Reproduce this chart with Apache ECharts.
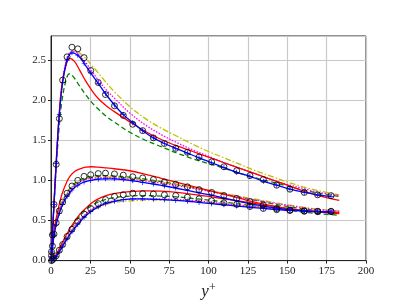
<!DOCTYPE html>
<html><head><meta charset="utf-8">
<script src="https://cdn.jsdelivr.net/npm/echarts@6/dist/echarts.min.js"></script>
<style>html,body{margin:0;padding:0;background:#fff}#c{width:407px;height:305px}</style>
</head><body><div id="c"></div>
<script>
// y+ positions of the DNS reference points (also used by the blue model)
var yPlusDNS = [0.3,0.9,1.9,3.3,5.3,7.4,10.2,13.3,17,21,25.2,30,34.6,40.3,45.9,51.9,58.2,65,72,79.2,86.6,94,102,109.8,117.9,126.3,134.8,143.3,151.7,160.8,169.3,177.8];
var dnsU = [0.11,0.32,0.70,1.20,1.77,2.25,2.54,2.66,2.64,2.53,2.37,2.22,2.07,1.93,1.81,1.70,1.62,1.53,1.46,1.40,1.35,1.29,1.23,1.17,1.12,1.06,1.01,0.94,0.89,0.85,0.82,0.81];
var dnsW = [0.06,0.18,0.33,0.47,0.62,0.73,0.84,0.93,1.00,1.05,1.07,1.085,1.09,1.08,1.065,1.045,1.03,1.01,0.98,0.95,0.92,0.885,0.85,0.81,0.775,0.735,0.695,0.65,0.63,0.62,0.615,0.615];
var dnsV = [0.0,0.01,0.03,0.06,0.13,0.20,0.30,0.39,0.49,0.58,0.65,0.71,0.76,0.80,0.82,0.84,0.835,0.83,0.82,0.81,0.79,0.77,0.745,0.72,0.70,0.675,0.65,0.635,0.625,0.615,0.61,0.61];

var blueU = [0.11,0.33,0.70,1.21,1.82,2.22,2.50,2.59,2.56,2.46,2.34,2.21,2.08,1.94,1.82,1.72,1.62,1.53,1.46,1.40,1.34,1.28,1.22,1.16,1.10,1.05,0.99,0.94,0.89,0.85,0.82,0.80];
var blueW = [0.05,0.16,0.31,0.45,0.59,0.70,0.80,0.88,0.94,0.98,1.0,1.015,1.02,1.02,1.01,0.995,0.975,0.955,0.93,0.905,0.875,0.845,0.815,0.78,0.745,0.71,0.68,0.655,0.635,0.62,0.61,0.605];
var blueV = [0.0,0.01,0.025,0.05,0.11,0.18,0.27,0.36,0.45,0.54,0.61,0.67,0.71,0.74,0.76,0.77,0.77,0.765,0.76,0.75,0.74,0.725,0.71,0.695,0.68,0.665,0.65,0.635,0.625,0.615,0.61,0.605];

// y+ grid of the other models
var yPlusModel = [0,1,2,3,5,7,10,12,15,18,22,26,30,35,40,50,60,70,80,90,100,110,120,130,140,150,160,170,183];
var redU = [0,0.38,0.76,1.13,1.78,2.2,2.47,2.52,2.48,2.38,2.24,2.12,2.02,1.93,1.86,1.73,1.61,1.51,1.43,1.36,1.29,1.22,1.15,1.08,1.01,0.94,0.87,0.81,0.75];
var greenU = [0,0.36,0.72,1.06,1.62,2.0,2.28,2.33,2.27,2.18,2.07,1.97,1.89,1.80,1.73,1.60,1.50,1.42,1.34,1.27,1.21,1.15,1.09,1.03,0.98,0.93,0.88,0.84,0.80];
var magentaU = [0,0.37,0.74,1.1,1.75,2.2,2.52,2.59,2.61,2.56,2.47,2.36,2.25,2.13,2.03,1.84,1.69,1.57,1.47,1.38,1.30,1.22,1.15,1.08,1.01,0.95,0.90,0.85,0.81];
var yellowU = [0,0.37,0.74,1.1,1.74,2.18,2.5,2.58,2.62,2.59,2.52,2.43,2.34,2.22,2.11,1.92,1.77,1.65,1.55,1.45,1.36,1.28,1.2,1.12,1.05,0.98,0.92,0.87,0.82];

var redW = [0,0.2,0.38,0.5,0.68,0.83,0.98,1.05,1.11,1.14,1.165,1.17,1.165,1.155,1.145,1.12,1.075,1.025,0.975,0.925,0.875,0.825,0.775,0.725,0.685,0.65,0.625,0.61,0.595];
var greenW = [0,0.18,0.34,0.47,0.62,0.73,0.84,0.9,0.96,1.0,1.035,1.05,1.06,1.06,1.055,1.04,1.015,0.985,0.95,0.91,0.87,0.83,0.79,0.75,0.71,0.675,0.645,0.62,0.59];
var magentaW = [0,0.17,0.32,0.45,0.6,0.71,0.82,0.88,0.94,0.98,1.01,1.025,1.03,1.035,1.03,1.015,0.99,0.965,0.935,0.9,0.865,0.83,0.79,0.755,0.72,0.69,0.66,0.635,0.615];
var yellowW = [0,0.17,0.33,0.46,0.61,0.72,0.83,0.89,0.95,0.99,1.02,1.035,1.045,1.045,1.04,1.025,1.0,0.975,0.945,0.91,0.875,0.84,0.8,0.765,0.73,0.695,0.665,0.64,0.615];

var redV = [0,0.01,0.03,0.06,0.14,0.22,0.33,0.4,0.49,0.57,0.65,0.72,0.77,0.81,0.835,0.86,0.87,0.865,0.85,0.825,0.8,0.77,0.74,0.71,0.68,0.65,0.625,0.605,0.585];
var greenV = [0,0.01,0.03,0.06,0.13,0.21,0.31,0.38,0.47,0.55,0.63,0.69,0.73,0.765,0.785,0.805,0.81,0.805,0.795,0.775,0.755,0.73,0.705,0.68,0.655,0.63,0.605,0.585,0.565];
var magentaV = [0,0.01,0.025,0.05,0.11,0.18,0.28,0.34,0.43,0.5,0.58,0.64,0.68,0.72,0.745,0.765,0.77,0.77,0.76,0.75,0.73,0.71,0.69,0.67,0.65,0.635,0.62,0.61,0.6];
var yellowV = [0,0.01,0.025,0.05,0.11,0.18,0.27,0.33,0.42,0.49,0.56,0.62,0.66,0.7,0.725,0.745,0.755,0.755,0.75,0.74,0.725,0.71,0.69,0.675,0.655,0.64,0.625,0.61,0.595];

var xTicks = [0,25,50,75,100,125,150,175,200];
var yTicks = [0.0,0.5,1.0,1.5,2.0,2.5];

function pairs(xs, ys){ return xs.map(function(x,i){ return [x, ys[i]]; }); }
var FONT = '"Liberation Serif","DejaVu Serif",serif';
var series = [];
function line(data, color, type, z){
  series.push({type:'line', data:data, smooth:0.35, showSymbol:false, symbol:'none', z:z||2,
    lineStyle:{color:color, width:1.3, type:type}, animation:false});
}
[greenU,greenW,greenV].forEach(function(a){ line(pairs(yPlusModel,a),'#008000',[5,3]); });
[yellowU,yellowW,yellowV].forEach(function(a){ line(pairs(yPlusModel,a),'#bfbf00',[6,2,1.5,2]); });
[magentaU,magentaW,magentaV].forEach(function(a){ line(pairs(yPlusModel,a),'#ff00ff',[1.5,1.5]); });
[redU,redW,redV].forEach(function(a){ line(pairs(yPlusModel,a),'#ff0000','solid',3); });
[blueU,blueW,blueV].forEach(function(a){
  series.push({type:'line', data:pairs(yPlusDNS,a), smooth:0.35, z:4, animation:false,
    symbol:'path://M4.3,0H5.7V4.3H10V5.7H5.7V10H4.3V5.7H0V4.3H4.3Z', symbolSize:5, showSymbol:true,
    itemStyle:{color:'#0000ff'}, lineStyle:{color:'#0000ff', width:1.3}});
});
[dnsU,dnsW,dnsV].forEach(function(a){
  series.push({type:'scatter', data:pairs(yPlusDNS,a), z:5, animation:false,
    symbol:'circle', symbolSize:6,
    itemStyle:{color:'rgba(0,0,0,0)', borderColor:'#000', borderWidth:1}});
});

var chart = echarts.init(document.getElementById('c'), null, {renderer:'canvas'});
chart.setOption({
  backgroundColor:'#fff',
  animation:false,
  grid:{left:51, right:41, top:36, bottom:34, show:true, borderColor:'#222', borderWidth:1},
  xAxis:{type:'value', min:0, max:200, interval:25,
    axisLine:{lineStyle:{color:'#222'}}, axisTick:{length:3, lineStyle:{color:'#222'}},
    axisLabel:{color:'#222', fontFamily:FONT, fontSize:11, margin:5,
      formatter:function(v){ return xTicks.indexOf(v)>=0 ? String(v) : ''; }},
    splitLine:{lineStyle:{color:'#c8c8c8', width:1.2}},
    name:'{i|y}{s|+}', nameLocation:'middle', nameGap:18,
    nameTextStyle:{rich:{i:{fontFamily:FONT, fontStyle:'italic', fontSize:17, color:'#222'},
      s:{fontFamily:FONT, fontSize:12, color:'#222', verticalAlign:'top', padding:[0,0,8,0]}}}},
  yAxis:{type:'value', min:0, max:2.8, interval:0.5,
    axisLine:{lineStyle:{color:'#222'}}, axisTick:{length:3, lineStyle:{color:'#222'}},
    axisLabel:{color:'#222', fontFamily:FONT, fontSize:11, margin:5, showMaxLabel:false,
      formatter:function(v){ var m = yTicks.filter(function(t){return Math.abs(t-v)<1e-6;}); return m.length ? m[0].toFixed(1) : ''; }},
    splitLine:{lineStyle:{color:'#c8c8c8', width:1.2}}},
  series:series
});
</script></body></html>
